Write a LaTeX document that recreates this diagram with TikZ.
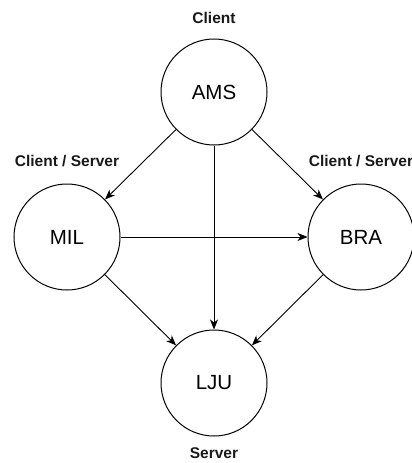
\documentclass[tikz,border=0pt]{standalone}
\usepackage{fontspec}
\setmainfont{Liberation Sans}
\usetikzlibrary{arrows.meta}
\begin{document}
\begin{tikzpicture}[x=1pt,y=-1pt,
  city/.style={circle,draw=black,line width=1pt,minimum size=106pt,inner sep=0pt,font=\fontsize{20.5}{24}\selectfont},
  role/.style={font=\bfseries\fontsize{15.5}{18}\selectfont,text=black!90},
  link/.style={line width=0.9pt,-{Stealth[length=10pt,width=8pt,inset=3pt]}}]
\useasboundingbox (0,0) rectangle (412,463);
\node[city] (ams) at (214,92) {AMS};
\node[city] (mil) at (67,237) {MIL};
\node[city] (bra) at (361,237) {BRA};
\node[city] (lju) at (214,383) {LJU};
\node[role] (lams) at (214,18) {Client};
\node[role] (lmil) at (67,161) {Client / Server};
\node[role] (lbra) at (361,161) {Client / Server};
\node[role] (llju) at (214,453) {Server};
\draw[link] (ams) -- (mil);
\draw[link] (ams) -- (bra);
\draw[link] (ams) -- (lju);
\draw[link] (mil) -- (bra);
\draw[link] (mil) -- (lju);
\draw[link] (bra) -- (lju);
\end{tikzpicture}
\end{document}
